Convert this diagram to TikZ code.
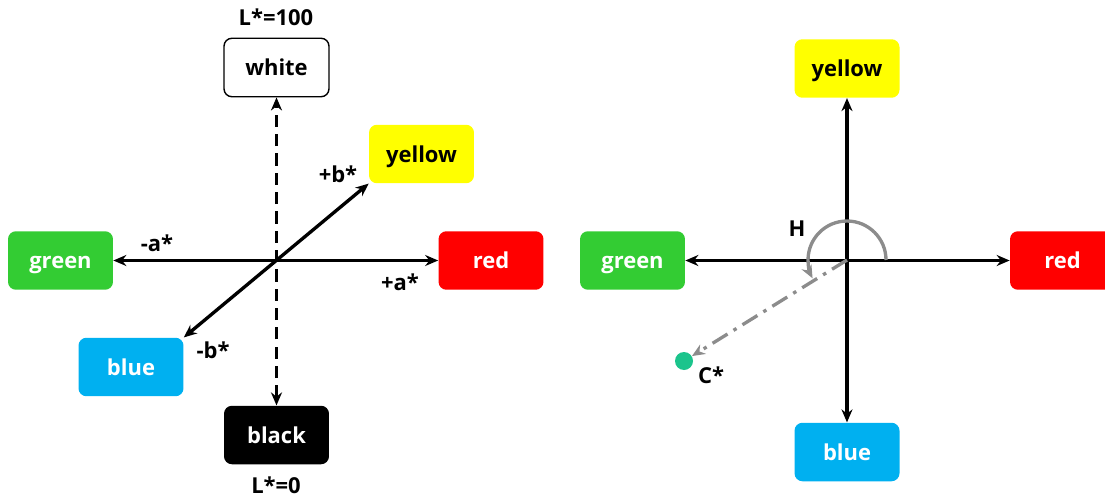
\documentclass[tikz,border=0pt]{standalone}
\usepackage{fontspec}
\setmainfont{Open Sans}
\usetikzlibrary{arrows.meta}
\definecolor{yellowFill}{HTML}{FFFF00}
\definecolor{greenFill}{HTML}{33CC33}
\definecolor{redFill}{HTML}{FF0000}
\definecolor{blueFill}{HTML}{00B0F0}
\definecolor{hueGray}{HTML}{8C8C8C}
\definecolor{chromaDot}{HTML}{1BC48C}

\begin{document}
\begin{tikzpicture}[
    x=0.02cm, y=-0.02cm,
    every node/.style={font=\fontsize{12.5}{14}\selectfont\bfseries},
    colorbox/.style={
        rectangle,
        rounded corners=4.5pt,
        minimum width=2.1cm,
        minimum height=1.17cm,
        inner sep=0pt,
        text height=2.1ex,
        text depth=0.3ex,
    },
    whitebox/.style={colorbox, draw=black, line width=0.8pt, fill=white},
    yellowbox/.style={colorbox, fill=yellowFill},
    greenbox/.style={colorbox, fill=greenFill, text=white},
    redbox/.style={colorbox, fill=redFill, text=white},
    bluebox/.style={colorbox, fill=blueFill, text=white},
    blackbox/.style={colorbox, fill=black, text=white},
    axis/.style={
        {Stealth[length=2.6mm, width=2.2mm]}-{Stealth[length=2.6mm, width=2.2mm]},
        line width=1.9pt,
    },
    lightness/.style={axis, dash pattern=on 7pt off 4pt},
    hue/.style={
        -{Stealth[length=2.6mm, width=2.2mm]},
        line width=1.9pt,
        color=hueGray,
    },
    chroma/.style={hue, dash pattern=on 10pt off 4pt on 2pt off 4pt},
    dot/.style={circle, fill=chromaDot, minimum size=0.36cm, inner sep=0pt},
]
\useasboundingbox (0,0) rectangle (1105,497);

% CIELAB axes
\coordinate (o1) at (276,260);
\node[whitebox]  (white)  at (276.5,67.5) {white};
\node[yellowbox] (yellow) at (421.5,154)  {yellow};
\node[greenbox]  (green)  at (60.5,260.5) {green};
\node[redbox]    (red)    at (491,260.5)  {red};
\node[bluebox]   (blue)   at (131,367)    {blue};
\node[blackbox]  (black)  at (276.5,435)  {black};

\node (lmax) at (276,17)  {L*=100};
\node (lmin) at (276,485) {L*=0};
\node (bpos) at (338,174) {+b*};
\node (aneg) at (157,243) {-a*};
\node (apos) at (400,282) {+a*};
\node (bneg) at (213,350) {-b*};

\draw[lightness] (black) -- (white);
\draw[axis] (green) -- (red);
\draw[axis] (blue.north east) -- (yellow.south west);

% LCh plane
\coordinate (o2) at (847,260);
\node[yellowbox] (yellow2) at (847,68.5)  {yellow};
\node[greenbox]  (green2)  at (632.5,260.5) {green};
\node[redbox]    (red2)    at (1062.5,260.5) {red};
\node[bluebox]   (blue2)   at (847,452)   {blue};

\draw[axis] (green2) -- (red2);
\draw[axis] (yellow2) -- (blue2);

\draw[hue] (o2) ++(39,0) arc[start angle=0, end angle=208, radius=0.78cm];
\node (hlabel) at (797,229) {H};

\node[dot] (cstar) at (684,361) {};
\node (clabel) at (711,375) {C*};
\draw[chroma] (o2) -- (cstar);

\end{tikzpicture}
\end{document}
